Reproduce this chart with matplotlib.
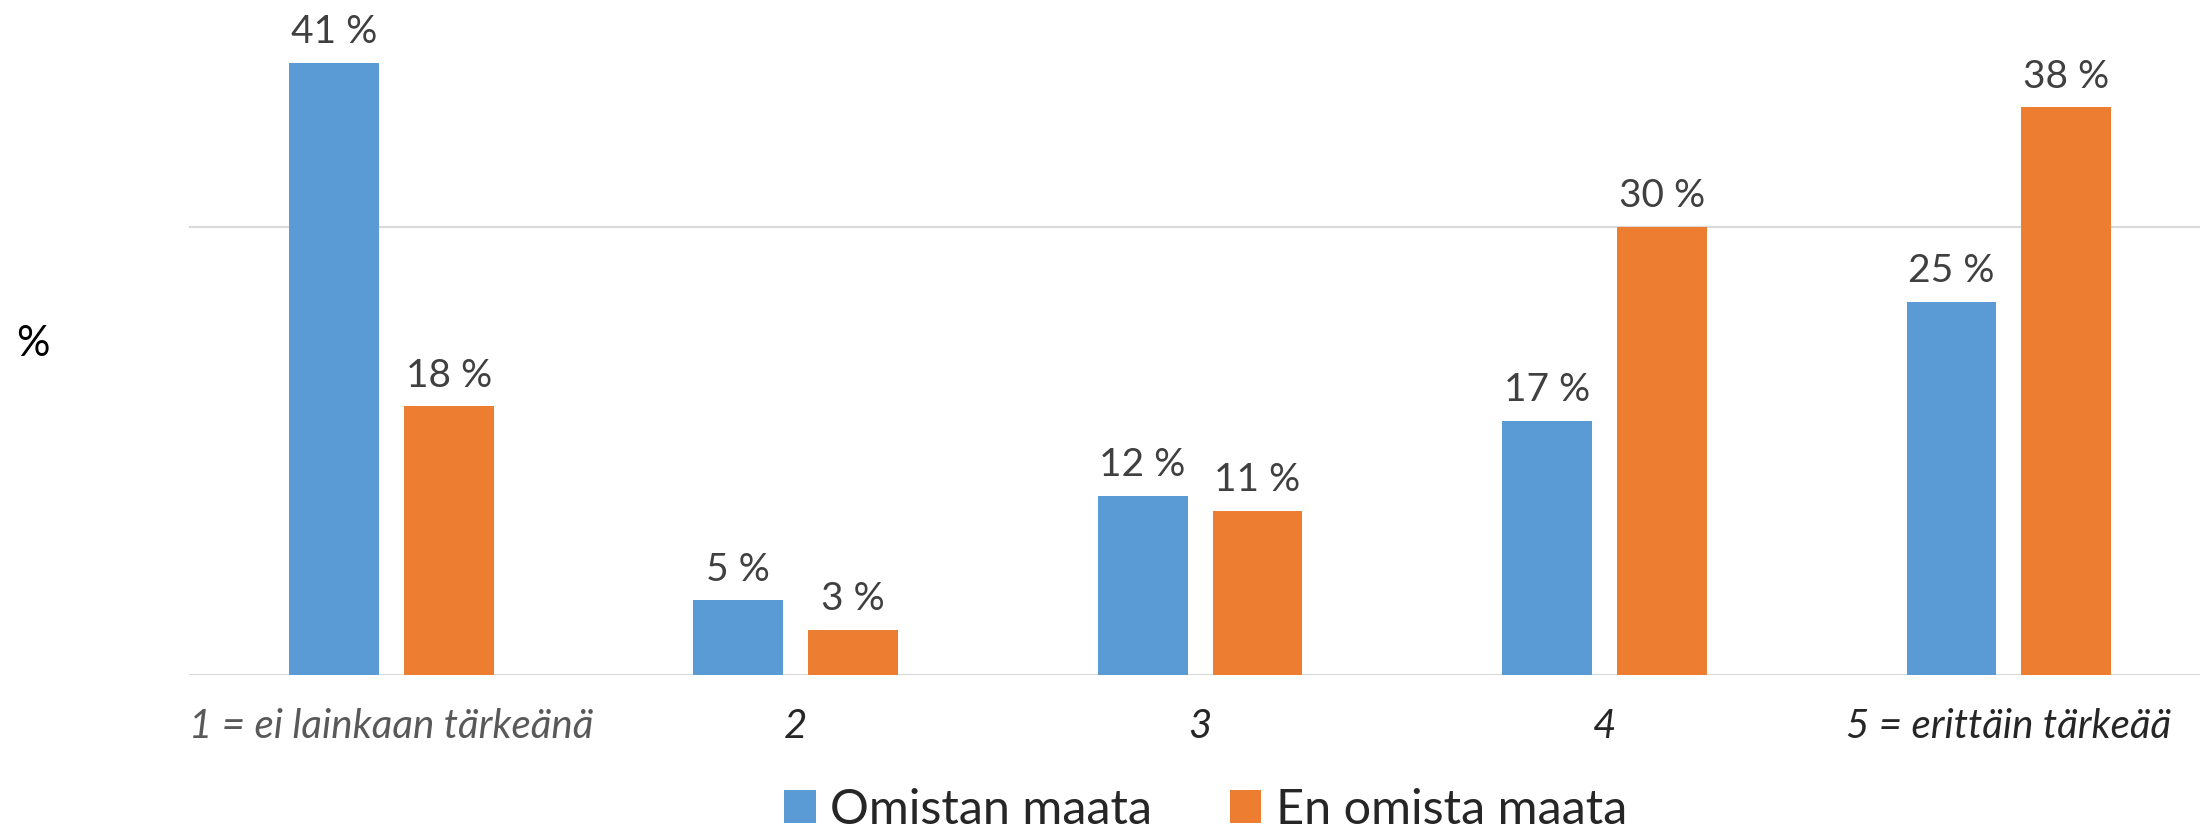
import matplotlib.pyplot as plt
import numpy as np

plt.rcParams['font.family'] = ['Lato', 'DejaVu Sans']

# Data
categories = ["1 = ei lainkaan tärkeänä", "2", "3", "4", "5 = erittäin tärkeää"]
omistan = [41, 5, 12, 17, 25]
en_omista = [18, 3, 11, 30, 38]
series_names = ["Omistan maata", "En omista maata"]

blue = "#5B9BD5"
orange = "#ED7D31"

fig = plt.figure(figsize=(22, 8.33), dpi=100)
ax = fig.add_axes([0.086, 0.19, 0.919, 0.81])

x = np.arange(len(categories))
w = 0.222
off = 0.142
b1 = ax.bar(x - off, omistan, w, color=blue, label=series_names[0], zorder=3)
b2 = ax.bar(x + off, en_omista, w, color=orange, label=series_names[1], zorder=3)

# value labels
for bars in (b1, b2):
    for rect in bars:
        h = rect.get_height()
        ax.annotate(f"{h:.0f} %", (rect.get_x() + rect.get_width() / 2, h),
                    xytext=(0, 9), textcoords="offset points",
                    ha="center", va="bottom", fontsize=28, color="#404040")

ax.set_xlim(-0.5, 4.5)
ax.set_ylim(0, 45.2)
ax.set_yticks([0, 30])
ax.set_yticklabels([])
ax.tick_params(axis="y", length=0)
ax.grid(axis="y", color="#d9d9d9", linewidth=1.5, zorder=0)
for s in ax.spines.values():
    s.set_visible(False)

ax.set_xticks(x)
ax.set_xticklabels(categories, fontsize=29, style="italic")
ax.tick_params(axis="x", length=0, pad=24)
for i, lbl in enumerate(ax.get_xticklabels()):
    lbl.set_color("#595959" if i == 0 else "#262626")

fig.text(0.015, 0.587, "%", fontsize=30, color="black", va="center", ha="center")

fig.legend(handles=[b1, b2], loc="center", bbox_to_anchor=(0.548, 0.028),
           ncol=2, frameon=False, fontsize=35, handlelength=0.65, handleheight=0.65,
           handletextpad=0.3, columnspacing=1.6, labelcolor="#262626")

fig.savefig("out.png", dpi=100)
